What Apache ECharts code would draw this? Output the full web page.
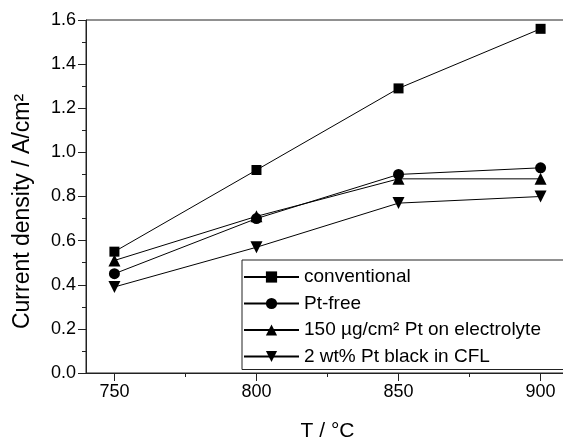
<!DOCTYPE html>
<html>
<head>
<meta charset="utf-8">
<script src="https://cdn.jsdelivr.net/npm/echarts@6/dist/echarts.min.js"></script>
<style>
html,body{margin:0;padding:0;background:#fff;}
#chart{width:563px;height:443px;}
</style>
</head>
<body>
<div id="chart"></div>
<script>
const temperatures = [750, 800, 850, 900];
const conventional = [0.55, 0.92, 1.29, 1.56];
const ptFree = [0.45, 0.70, 0.90, 0.93];
const ptOnElectrolyte = [0.51, 0.71, 0.88, 0.88];
const ptBlackCFL = [0.39, 0.57, 0.77, 0.80];
const seriesNames = ['conventional', 'Pt-free', '150 µg/cm² Pt on electrolyte', '2 wt% Pt black in CFL'];
const xMajorTicks = [750, 800, 850, 900];
const xMinorTicks = [775, 825, 875];

const FONT = '"Liberation Sans", Arial, sans-serif';
const AX = '#222';

function pairs(vals){ return temperatures.map((t,i)=>[t, vals[i]]); }

function mkSeries(name, vals, symbol, size, rotate){
  return {
    name: name, type: 'line', data: pairs(vals), xAxisIndex: 0,
    symbol: symbol, symbolSize: size, symbolRotate: rotate || 0,
    showAllSymbol: true,
    lineStyle: {color: '#000', width: 1},
    itemStyle: {color: '#000', borderWidth: 0},
    emphasis: {disabled: true},
    animation: false, z: 3
  };
}

const chart = echarts.init(document.getElementById('chart'), null, {renderer: 'canvas'});
chart.setOption({
  backgroundColor: '#fff',
  animation: false,
  textStyle: {fontFamily: FONT},
  grid: {left: 86, top: 20, width: 483, height: 353, containLabel: false, outerBoundsMode: 'none',
    show: true, borderColor: AX, borderWidth: 1, backgroundColor: 'transparent'},
  xAxis: [{
    type: 'value', min: 740, max: 910, position: 'bottom',
    name: 'T / °C', nameLocation: 'middle', nameGap: 48,
    nameTextStyle: {fontSize: 21, color: '#000', fontFamily: FONT},
    axisLine: {show: true, onZero: false, lineStyle: {color: AX, width: 1}},
    axisTick: {show: true, inside: false, length: 8, lineStyle: {color: AX}, customValues: xMajorTicks},
    minorTick: {show: false},
    splitLine: {show: false},
    axisLabel: {fontSize: 18, color: '#000', margin: 10, fontFamily: FONT, customValues: xMajorTicks,
      formatter: v => xMajorTicks.indexOf(v) >= 0 ? String(v) : ''}
  }, {
    type: 'value', min: 740, max: 910, position: 'bottom',
    axisLine: {show: false, onZero: false},
    axisTick: {show: true, inside: false, length: 4, lineStyle: {color: AX}, customValues: xMinorTicks},
    axisLabel: {show: false, customValues: xMinorTicks},
    splitLine: {show: false}
  }],
  yAxis: {
    type: 'value', min: 0, max: 1.6, interval: 0.2,
    name: 'Current density / A/cm²', nameLocation: 'middle', nameGap: 52,
    nameTextStyle: {fontSize: 23, color: '#000', fontFamily: FONT, padding: [0, 30, 0, 0]},
    axisLine: {show: true, onZero: false, lineStyle: {color: AX, width: 1}},
    axisTick: {show: true, inside: false, length: 8, lineStyle: {color: AX}},
    minorTick: {show: true, splitNumber: 2, length: 4, lineStyle: {color: AX}},
    splitLine: {show: false},
    axisLabel: {fontSize: 18, color: '#000', margin: 10, fontFamily: FONT,
      formatter: v => v.toFixed(1)}
  },
  legend: {
    show: true, orient: 'vertical', left: 242, top: 260,
    padding: [7, 100, 3, 1],
    itemWidth: 55, itemHeight: 14, itemGap: 6.5,
    borderColor: AX, borderWidth: 1, backgroundColor: '#fff',
    textStyle: {fontSize: 19, lineHeight: 20, color: '#000', fontFamily: FONT},
    data: seriesNames,
    selectedMode: false,
    z: 10
  },
  series: [
    mkSeries(seriesNames[0], conventional, 'rect', 10),
    mkSeries(seriesNames[1], ptFree, 'circle', 11),
    mkSeries(seriesNames[2], ptOnElectrolyte, 'triangle', 12),
    mkSeries(seriesNames[3], ptBlackCFL, 'triangle', 12, 180)
  ]
});
</script>
</body>
</html>
